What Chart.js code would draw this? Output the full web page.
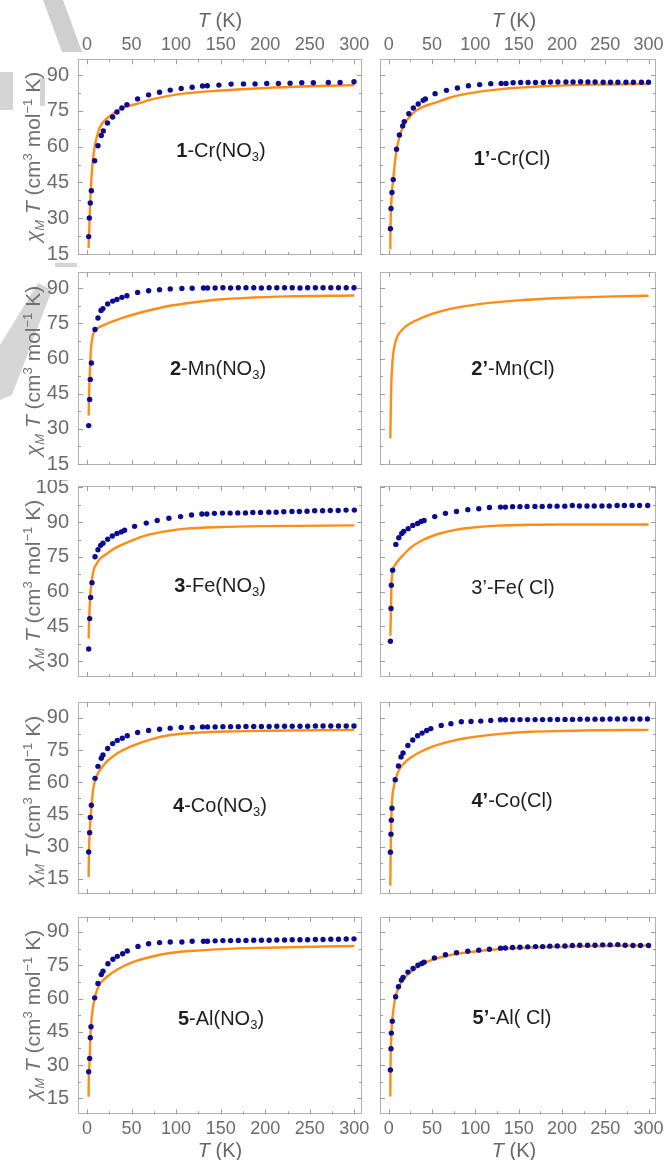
<!DOCTYPE html>
<html><head><meta charset="utf-8">
<script src="https://cdn.jsdelivr.net/npm/chart.js@4.4.1/dist/chart.umd.min.js"></script>
<style>
html,body{margin:0;padding:0;background:#fff;}
body{width:664px;height:1160px;position:relative;overflow:hidden;font-family:'Liberation Sans',Arial,sans-serif;}
canvas{position:absolute;z-index:1;}
.t{position:absolute;z-index:2;white-space:nowrap;line-height:1;}
.ax{color:#666;font-size:20px;transform:translate(-50%,-50%);}
.yt{color:#707070;font-size:21px;transform:translate(-50%,-50%) rotate(-90deg);}
.pl{color:#1e1e1e;font-size:20px;transform:translate(-50%,-50%);}
.sb{font-size:13px;position:relative;top:4px;}
.sp{font-size:13px;position:relative;top:-8px;}
svg.wm{position:absolute;left:0;top:0;z-index:0;}
</style></head><body>
<svg class="wm" width="664" height="1160">
  <polygon points="43,0 63,0 82,52 62,52" fill="#cfcfcf"/>
  <rect x="0" y="72" width="13" height="38" fill="#d4d4d4"/>
  <rect x="40" y="78" width="5" height="28" fill="#d4d4d4"/>
  <polygon points="0,345 38,283 52,290 12,395 0,400" fill="#d6d6d6"/>
  <rect x="55" y="263" width="22" height="4" fill="#d4d4d4"/>
</svg>

<div class="t ax" style="left:220px;top:20px"><i>T</i> (K)</div>
<div class="t ax" style="left:514px;top:20px"><i>T</i> (K)</div>
<div class="t ax" style="left:220px;top:1150px"><i>T</i> (K)</div>
<div class="t ax" style="left:514px;top:1150px"><i>T</i> (K)</div>

<div class="t yt" style="left:32px;top:157px"><i>χ<span class="sb">M</span> T</i> (cm<span class="sp">3</span> mol<span class="sp">−1</span> K)</div>
<div class="t yt" style="left:32px;top:371px"><i>χ<span class="sb">M</span> T</i> (cm<span class="sp">3</span> mol<span class="sp">−1</span> K)</div>
<div class="t yt" style="left:32px;top:585px"><i>χ<span class="sb">M</span> T</i> (cm<span class="sp">3</span> mol<span class="sp">−1</span> K)</div>
<div class="t yt" style="left:32px;top:801px"><i>χ<span class="sb">M</span> T</i> (cm<span class="sp">3</span> mol<span class="sp">−1</span> K)</div>
<div class="t yt" style="left:32px;top:1015px"><i>χ<span class="sb">M</span> T</i> (cm<span class="sp">3</span> mol<span class="sp">−1</span> K)</div>

<div class="t pl" style="left:221px;top:150px"><b>1</b>-Cr(NO<span class="sb">3</span>)</div>
<div class="t pl" style="left:512px;top:158px"><b>1’</b>-Cr(Cl)</div>
<div class="t pl" style="left:218px;top:368px"><b>2</b>-Mn(NO<span class="sb">3</span>)</div>
<div class="t pl" style="left:513px;top:368px"><b>2’</b>-Mn(Cl)</div>
<div class="t pl" style="left:220px;top:585px"><b>3</b>-Fe(NO<span class="sb">3</span>)</div>
<div class="t pl" style="left:513px;top:587px">3’-Fe( Cl)</div>
<div class="t pl" style="left:220px;top:805px"><b>4</b>-Co(NO<span class="sb">3</span>)</div>
<div class="t pl" style="left:512px;top:800px"><b>4’</b>-Co(Cl)</div>
<div class="t pl" style="left:221px;top:1018px"><b>5</b>-Al(NO<span class="sb">3</span>)</div>
<div class="t pl" style="left:512px;top:1017px"><b>5’</b>-Al( Cl)</div>

<script>
// ---- tick labels ----
const xTickLabels = [0,50,100,150,200,250,300];
const yTickLabelsA = [15,30,45,60,75,90];
const yTickLabelsB = [30,45,60,75,90,105];

// ---- 1-Cr(NO3) ----
const p1T = [1.9,2.6,3.7,4.9,8.6,12.3,16,18.3,23,28.8,33.6,39.2,44.8,56.8,69.1,81.4,93.4,105.7,118,129.6,135,148,161.7,175.6,188.6,201.7,214.8,227.9,241,254,270.8,284,299.6];
const p1Chi = [22.3,30.1,36.4,41.5,54.1,60.4,64.7,66.6,69.9,72.4,74.5,76.2,77.6,80,81.7,82.8,83.7,84.4,84.9,85.4,85.5,85.8,86.2,86.3,86.3,86.5,86.5,86.6,86.8,86.8,86.9,86.9,87.2];
const p1FitT = [1.8,2,2.5,3,4,5,6,8,10,12,15,20,30,40,57,75,100,150,200,250,300];
const p1Fit = [17.5,20,25,31,40,47,52,58.5,62.5,65.5,68.5,71,74,76.3,78,80,81.8,83.5,84.6,85.3,85.8];

// ---- 1'-Cr(Cl) ----
const p1pT = [1.9,2.6,3.7,5.2,9,12.3,16.1,17.9,23.2,28.4,34,39.7,42.3,53.5,66.6,79.3,92,105,117.8,129.8,135.4,143.6,152.3,160.9,169.5,178.5,186.7,195.3,204.6,212.8,221.5,230,238.3,247.6,256,264.6,273.9,282.5,291.8,300];
const p1pChi = [25.6,34.1,40.8,46.2,58.9,64.9,68.7,70.5,73.8,76.2,77.9,79.4,80,82.2,83.6,84.6,85.5,86,86.4,86.5,86.5,86.8,86.9,86.9,86.9,86.9,87.1,87.1,87.1,87.1,87.2,87.1,87.1,87,87,87,87,87,87,87];
const p1pFitT = [1.8,2,2.6,3.7,5.2,7,9,12,16,23,30,40,53,70,92,130,178,238,300];
const p1pFit = [17,25,34,41,46.5,53,58.5,63.5,68,72,74.7,76.8,78.3,80.5,82.3,84.1,85.3,86,86.2];

// ---- 2-Mn(NO3) ----
const p2T = [1.9,3,3.7,4.9,9,12.3,15.7,17.9,23.2,28.8,33.6,39.2,44.8,56.8,69.1,81.4,93.4,106.5,118,130.7,135.2,143.8,152.5,161.1,169.8,178.4,187.1,195.7,204.4,213,221.7,230.3,239,247.6,256.3,264.9,273.6,282.2,290.9,299.6];
const p2Chi = [31.4,42.5,51.1,58.1,72.4,77.3,80.5,81.3,83.3,84.5,85.2,86.1,86.8,88.2,88.9,89.3,89.7,89.9,90,90.1,90.1,90.1,90.2,90.1,90.2,90.2,90.2,90.1,90.2,90.2,90.2,90.2,90.1,90.2,90.2,90.2,90.2,90.2,90.2,90.2];
const p2FitT = [1.9,2.2,3,3.7,4.9,6.7,9,15,26,39,57,75,93,112,148,187,224,300];
const p2Fit = [35.7,42.5,52,59,66,70,72,73.6,75.4,77.2,79.3,81,82.5,83.6,85.2,86,86.5,86.9];

// ---- 2'-Mn(Cl) (fit only) ----
const p2pT = [];
const p2pChi = [];
const p2pFitT = [1.9,2.2,2.6,3,4,5,7,10,15,20,30,50,75,100,150,200,250,300];
const p2pFit = [26,35,44,50,57,61.5,66,69.5,72,73.8,76,79,81.5,83,84.8,85.8,86.4,86.8];

// ---- 3-Fe(NO3) ----
const p3T = [1.9,3,4.1,5.6,9,12.3,15.3,17.9,23.2,28.4,33.6,38.5,42.2,53.4,66.5,78.8,91.9,105,117.3,128.9,134.5,143,152,160.6,169.2,177.8,186.1,194.7,204,212.3,220.8,230,238.3,246.9,255.5,264.4,273,281.9,290.7,300];
const p3Chi = [35.3,48.4,57.5,63.9,75.1,78.1,80,80.9,82.6,84,85.1,85.8,86.5,88.2,89.6,90.7,91.7,92.4,93.1,93.5,93.5,93.8,93.9,93.9,94,94,94.2,94.2,94.3,94.3,94.5,94.6,94.6,94.7,94.9,94.9,95,95,95.2,95.2];
const p3FitT = [1.9,2.2,3,4.1,6,7.8,10.5,14.2,21.7,32.9,51.6,70.2,88.9,111,148.7,201,300];
const p3Fit = [39.8,45.4,53.7,60.7,66.3,69.8,71.9,74,76.3,79.1,82.3,84.7,86.1,87.2,87.9,88.3,88.6];

// ---- 3'-Fe(Cl) ----
const p3pT = [1.9,2.6,3,4.5,8.2,11.6,15,17.2,22.4,27.7,33.3,37.4,40.8,53.1,65.5,78.2,91.3,104,116.3,129,134.7,143,151.5,159.7,168.8,177.2,185.9,194.4,203.3,212,220.2,228.9,237.3,246.2,254.6,263.7,272.1,281,289.6,299];
const p3pChi = [38.6,52.8,62.8,69.3,80.4,83.3,85.1,86,87.2,88.6,89.4,90.3,90.7,92.4,93.8,94.6,95.4,95.8,96.3,96.5,96.5,96.7,96.7,96.8,96.8,96.8,96.9,96.9,96.9,97.2,97,97,97,97,97,97.2,97.2,97.2,97.2,97.2];
const p3pFitT = [1.9,2.2,2.6,3,3.7,4.5,8,14,25,40,59,77,100,126,163,200,300];
const p3pFit = [41,47,53,62,66.5,69,71.9,74.7,78.9,82.4,85.1,86.7,87.8,88.5,88.9,89,89];

// ---- 4-Co(NO3) ----
const p4T = [1.9,3,3.7,4.9,9,12.3,16,17.9,23.2,28.8,34,39.6,45.2,56.8,69.1,81.4,93.4,105.7,118,129.6,135.2,143.8,152.5,161.1,169.8,178.4,187.1,195.7,204.4,213,221.7,230.3,239,247.6,256.3,264.9,273.6,282.2,290.9,299.6];
const p4Chi = [27.5,36.5,43.6,49.3,61.8,67.4,71.2,72.7,75.7,78,79.5,80.5,81.7,83.2,84.1,84.7,85.2,85.5,85.5,85.8,85.8,85.8,85.9,85.9,85.9,86,86,86,86,86.1,86.1,86.1,86.1,86.1,86.2,86.2,86.2,86.2,86.2,86.2];
const p4FitT = [1.8,2,2.2,3,4.1,5.2,6.7,9,12,15,22.4,33.6,52.3,71,93.4,127,164,202,300];
const p4Fit = [15.8,22,27.5,36.5,44,49.3,56.1,60.6,64,65.9,69.7,73.4,77.2,79.9,82,83.2,83.7,84,84.4];

// ---- 4'-Co(Cl) ----
const p4pT = [1.9,2.6,3,3.7,7.5,11.2,14.2,16.5,22.1,27.7,33.3,38.5,43.8,48.6,60.6,71.8,83.8,95,106.3,117.8,129,134.7,143,151.6,160.3,169,177.6,186.3,194.9,203.6,212.2,220.9,229.5,238.2,246.8,255.5,264.1,272.8,281.4,290.1,298.7];
const p4pChi = [27.4,35.8,42.3,47.9,61.2,67.6,71.8,73.6,77.1,79.7,81.7,82.9,84.1,85,86.5,87.3,88.2,88.3,88.5,88.8,89.1,89.1,89.1,89.2,89.2,89.2,89.2,89.3,89.3,89.3,89.3,89.4,89.4,89.4,89.4,89.5,89.5,89.5,89.5,89.5,89.5];
const p4pFitT = [1.8,2.2,2.6,3.4,5.6,8.2,12,17.6,25,36.3,51.3,70,88.7,126,163.5,201,238,300];
const p4pFit = [11.7,27.1,36.2,48.3,57.4,61.9,65.8,68.8,71.4,74.1,76.7,78.9,80.5,82.4,83.5,83.9,84.2,84.4];

// ---- 5-Al(NO3) ----
const p5T = [1.9,3,3.7,4.5,8.6,12.3,16,17.9,23.5,29.1,34,40,45.2,57.2,69.1,81.4,93.4,106.5,118,130.7,135.2,143.8,152.5,161.1,169.8,178.4,187.1,195.7,204.4,213,221.7,230.3,239,247.6,256.3,264.9,273.6,282.2,290.9,299.6];
const p5Chi = [27,33,42.3,47.3,60.3,66.8,70.8,72.3,75.7,77.7,79,80.2,81.4,83.5,84.7,85.2,85.5,85.5,85.8,85.8,85.8,86,86.1,86.1,86.2,86.2,86.3,86.3,86.3,86.4,86.4,86.5,86.5,86.5,86.6,86.6,86.7,86.7,86.8,86.9];
const p5FitT = [1.8,2,2.3,3,3.7,4.5,5.6,8.6,11.2,15,22.4,33.6,52,71,93,127,164,202,300];
const p5Fit = [15.7,24,27,33,42.3,47.3,52.8,60.3,63.8,66.8,69.8,73,76.5,78.7,80.5,81.7,82.5,82.9,83.7];

// ---- 5'-Al(Cl) ----
const p5pT = [1.9,2.6,3,4.1,7.9,11.2,14.6,16.5,22.1,28.1,33.7,38.2,40.8,52.7,65.5,78.2,91.3,104,116.3,129,134.7,143,151.5,160.5,169.5,177.7,186,194.6,203.5,212,220.6,229.6,238.2,247,255.6,264.5,273,282,290.7,300];
const p5pChi = [27.8,37.4,44.4,49.8,60.8,65.3,68.3,69.5,71.9,73.5,75,75.8,76.4,78.3,79.7,80.6,81.3,81.8,82.2,82.7,82.8,83,83.1,83.3,83.4,83.4,83.6,83.7,83.7,83.9,84,84,84,84.2,84.2,84.3,84,83.9,83.9,83.9];
const p5pFitT = [1.8,2,2.6,3.7,4.9,6.4,8.2,10.8,13.8,19.5,26.9,36.3,51.3,70,88.7,126,163.5,201,238,300];
const p5pFit = [15.8,27.8,39.8,48.8,53.3,57.8,61.5,64.2,66.8,69.8,72.5,75,77.6,79.5,80.7,82.2,83,83.4,83.7,83.9];

// ---- layout (page pixels) ----
const rowFrames = [[59.3,255],[271.7,471],[486,683],[702,900],[916.7,1114.3]];
const rowRanges = [[14.6,96.6],[14.6,96.9],[23.2,105.6],[7.9,97.4],[7.8,96.75]];
const rowYLabels = [yTickLabelsA,yTickLabelsA,yTickLabelsB,yTickLabelsA,yTickLabelsA];
const colFrames = [[78,362],[372,656]];
const colCanvas = [[0,370],[364,664]];
const xRange = [-10.1,308.6];

const panels = [
  [p1T,p1Chi,p1FitT,p1Fit],[p1pT,p1pChi,p1pFitT,p1pFit],
  [p2T,p2Chi,p2FitT,p2Fit],[p2pT,p2pChi,p2pFitT,p2pFit],
  [p3T,p3Chi,p3FitT,p3Fit],[p3pT,p3pChi,p3pFitT,p3pFit],
  [p4T,p4Chi,p4FitT,p4Fit],[p4pT,p4pChi,p4pFitT,p4pFit],
  [p5T,p5Chi,p5FitT,p5Fit],[p5pT,p5pChi,p5pFitT,p5pFit]
];

function mids(arr){const m=[];for(let i=0;i<arr.length-1;i++)m.push((arr[i]+arr[i+1])/2);return m;}

const framePlugin = {
  id:'frameTicks',
  beforeDatasetsDraw(chart){
    const {ctx, chartArea:a, scales} = chart;
    const xs = scales.x, ys = scales.y;
    const yl = chart.options.plugins.frameTicks.yLabels;
    ctx.save();
    ctx.strokeStyle = '#b2b2b2'; ctx.lineWidth = 1;
    ctx.strokeRect(Math.round(a.left)+0.5, Math.round(a.top)+0.5, Math.round(a.right-a.left)-1, Math.round(a.bottom-a.top)-1);
    ctx.strokeStyle = '#9c9c9c';
    ctx.beginPath();
    const xt = xTickLabels.map(v=>[v,5]).concat(mids(xTickLabels).map(v=>[v,3]));
    xt.forEach(([v,len])=>{
      const p = Math.round(xs.getPixelForValue(v))+0.5;
      ctx.moveTo(p,a.top); ctx.lineTo(p,a.top+len);
      ctx.moveTo(p,a.bottom); ctx.lineTo(p,a.bottom-len);
    });
    const yt = yl.map(v=>[v,5]).concat(mids(yl).map(v=>[v,3]));
    yt.forEach(([v,len])=>{
      if (v < ys.min || v > ys.max) return;
      const p = Math.round(ys.getPixelForValue(v))+0.5;
      ctx.moveTo(a.left,p); ctx.lineTo(a.left+len,p);
      ctx.moveTo(a.right,p); ctx.lineTo(a.right-len,p);
    });
    ctx.stroke();
    ctx.restore();
  }
};

const tickFontX = {family:"'Liberation Sans Narrow','Liberation Sans',Arial,sans-serif", size:18};
const tickFontY = {family:"'Liberation Sans',Arial,sans-serif", size:20};

panels.forEach((p,i)=>{
  const row = Math.floor(i/2), col = i%2;
  const [fTop,fBot] = rowFrames[row];
  const [cL,cR] = colCanvas[col];
  const [fL,fR] = colFrames[col];
  const cTop = row===0 ? 0 : fTop-6;
  const cBot = row===4 ? 1160 : fBot+6;
  const cv = document.createElement('canvas');
  const W = cR-cL, H = Math.round(cBot-cTop);
  cv.width = W; cv.height = H;
  cv.style.left = cL+'px'; cv.style.top = cTop+'px';
  cv.style.width = W+'px'; cv.style.height = H+'px';
  document.body.appendChild(cv);
  const showX = row===0 || row===4;
  const showY = col===0;
  const pad = {
    left: showY ? 0 : fL-cL,
    right: cR-fR,
    top: row===0 ? 0 : fTop-cTop,
    bottom: row===4 ? 0 : cBot-fBot
  };
  const xAxisH = row===0 ? fTop : cBot-fBot;
  const yl = rowYLabels[row];
  new Chart(cv, {
    type:'scatter',
    data:{datasets:[
      {data:p[0].map((t,k)=>({x:t,y:p[1][k]})), pointRadius:2.7, pointBackgroundColor:'#0c0c90', pointBorderWidth:0, showLine:false},
      {data:p[2].map((t,k)=>({x:t,y:p[3][k]})), showLine:true, borderColor:'#ff8c16', borderWidth:2.4, pointRadius:0, cubicInterpolationMode:'monotone', fill:false}
    ]},
    options:{
      responsive:false, animation:false, devicePixelRatio:1, events:[],
      layout:{padding:pad},
      plugins:{legend:{display:false}, tooltip:{enabled:false}, frameTicks:{yLabels:yl}},
      scales:{
        x:{type:'linear', min:xRange[0], max:xRange[1], display:showX, position: row===0?'top':'bottom',
           grid:{display:false, drawTicks:false}, border:{display:false},
           ticks:{font:tickFontX, color:'#6b6b6b', padding: row===0?3:4, maxRotation:0, autoSkip:false, callback:v=>String(v)},
           afterBuildTicks:s=>{s.ticks = xTickLabels.map(v=>({value:v}));},
           afterFit:s=>{s.height = xAxisH; s.paddingLeft=0; s.paddingRight=0;}
        },
        y:{type:'linear', min:rowRanges[row][0], max:rowRanges[row][1], display:showY, position:'left',
           grid:{display:false, drawTicks:false}, border:{display:false},
           ticks:{font:tickFontY, color:'#6b6b6b', padding:9, autoSkip:false, callback:v=>String(v)},
           afterBuildTicks:s=>{s.ticks = yl.map(v=>({value:v}));},
           afterFit:s=>{s.width = fL-cL; s.paddingTop=0; s.paddingBottom=0;}
        }
      }
    },
    plugins:[framePlugin]
  });
});
</script>
</body></html>
